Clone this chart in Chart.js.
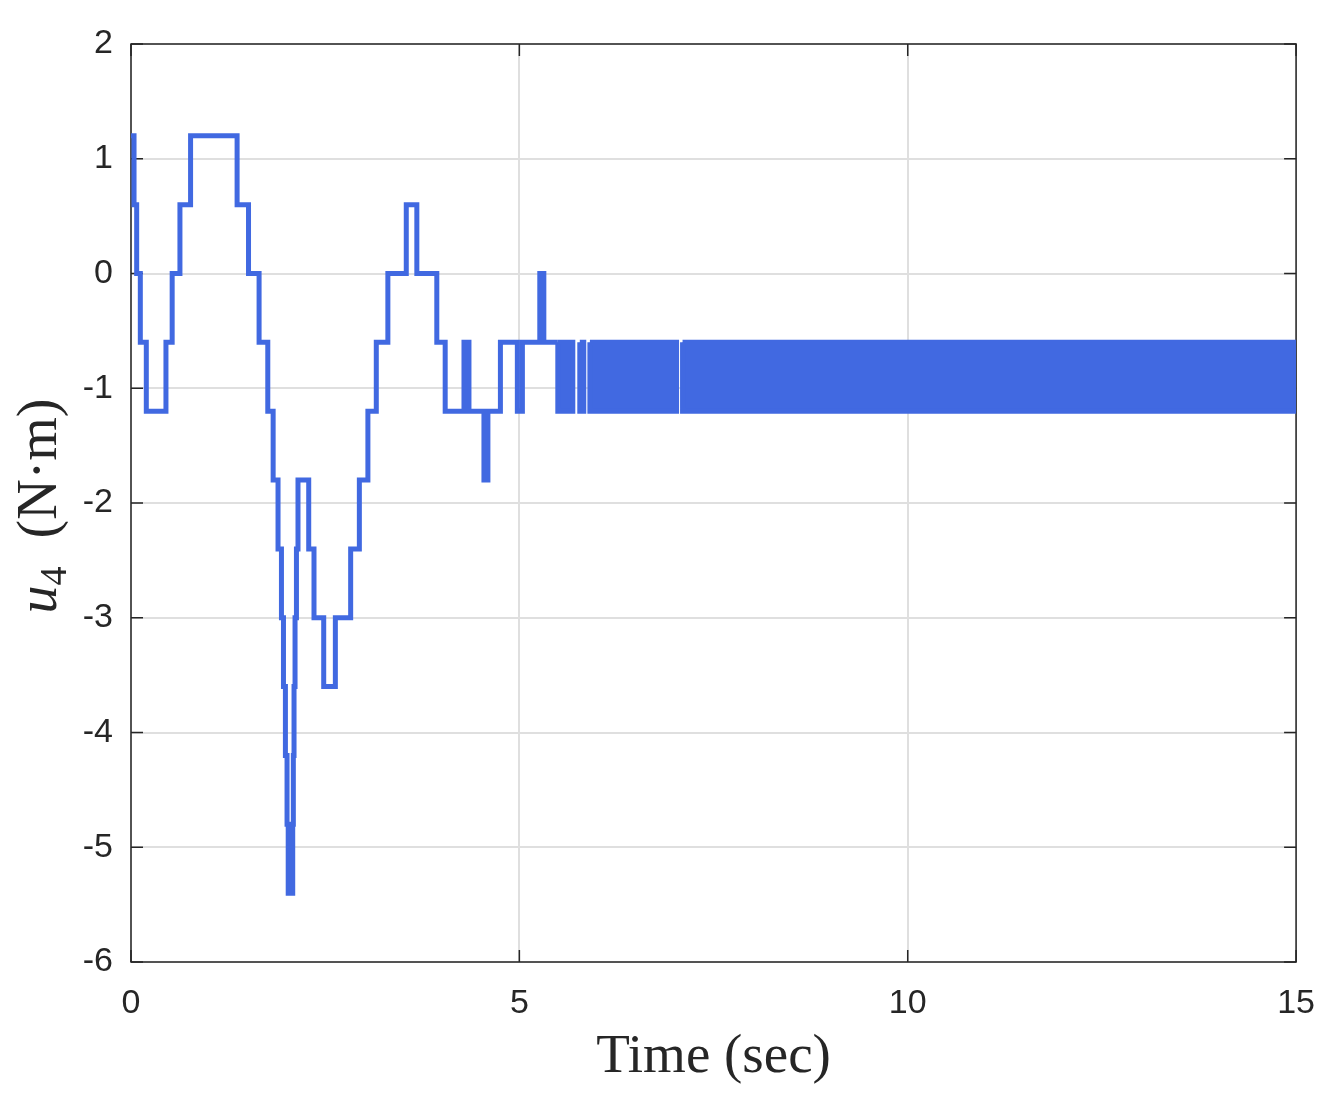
<!DOCTYPE html>
<html>
<head>
<meta charset="utf-8">
<script src="https://cdn.jsdelivr.net/npm/chart.js@4.4.1/dist/chart.umd.min.js"></script>
<style>
  html, body { margin: 0; padding: 0; background: #fff; }
  canvas { display: block; }
</style>
</head>
<body>
<canvas id="u4Chart" width="1336" height="1103"></canvas>
<script>
// switching instants (sec) and the value held from each instant on (N·m)
const stepTimes = [
  0, 0.039, 0.073, 0.12, 0.197, 0.45, 0.53, 0.63, 0.767, 1.366,
  1.513, 1.649, 1.761, 1.83, 1.893, 1.937, 1.963, 1.988, 2.009, 2.024,
  2.082, 2.09, 2.099, 2.112, 2.13, 2.15, 2.288, 2.356, 2.481, 2.631,
  2.828, 2.94, 3.05, 3.158, 3.307, 3.544, 3.68, 3.937, 4.045, 4.287,
  4.351, 4.544, 4.595, 4.756, 4.974, 5.039, 5.263, 5.315, 5.495
];
const stepValues = [
  1.2, 0.6, 0, -0.6, -1.2, -0.6, 0, 0.6, 1.2, 0.6,
  0, -0.6, -1.2, -1.8, -2.4, -3.0, -3.6, -4.2, -4.8, -5.4,
  -4.8, -4.2, -3.6, -3.0, -2.4, -1.8, -2.4, -3.0, -3.6, -3.0,
  -2.4, -1.8, -1.2, -0.6, 0, 0.6, 0, -0.6, -1.2, -0.6,
  -1.2, -1.8, -1.2, -0.6, -1.2, -0.6, 0, -0.6, -0.6
];

// chattering intervals: signal flips between these two levels every sample
const chatterStart = [5.495, 5.778, 5.908, 7.101];
const chatterEnd = [5.688, 5.829, 7.024, 15.0];
const chatterHigh = -0.6;
const chatterLow = -1.2;

const xTicks = [0, 5, 10, 15];
const yTicks = [-6, -5, -4, -3, -2, -1, 0, 1, 2];

const lineColor = '#4169e1';
const axisColor = '#262626';
const gridColor = '#dfdfdf';

const traceSet = {
  data: stepTimes.map((t, i) => ({ x: t, y: stepValues[i] })),
  stepped: true,
  borderColor: lineColor,
  borderWidth: 5,
  borderJoinStyle: 'miter',
  borderCapStyle: 'butt',
  pointRadius: 0,
  fill: false
};

const chatterSets = chatterStart.map((t0, i) => ({
  data: [
    { x: t0, y: chatterHigh },
    { x: chatterEnd[i], y: chatterHigh },
    { x: chatterEnd[i], y: chatterLow },
    { x: t0, y: chatterLow },
    { x: t0, y: chatterHigh }
  ],
  borderColor: lineColor,
  backgroundColor: lineColor,
  borderWidth: 5,
  borderJoinStyle: 'miter',
  pointRadius: 0,
  fill: 'shape'
}));

// box and inward tick marks, under the data like MATLAB's bottom layer
const frame = {
  id: 'frame',
  beforeDatasetsDraw(chart) {
    const { ctx, chartArea: a, scales: { x, y } } = chart;
    const len = 12;
    ctx.save();
    ctx.strokeStyle = axisColor;
    ctx.lineWidth = 1.5;
    ctx.strokeRect(a.left, a.top, a.right - a.left, a.bottom - a.top);
    ctx.beginPath();
    xTicks.forEach(v => {
      const px = x.getPixelForValue(v);
      ctx.moveTo(px, a.bottom); ctx.lineTo(px, a.bottom - len);
      ctx.moveTo(px, a.top); ctx.lineTo(px, a.top + len);
    });
    yTicks.forEach(v => {
      const py = y.getPixelForValue(v);
      ctx.moveTo(a.left, py); ctx.lineTo(a.left + len, py);
      ctx.moveTo(a.right, py); ctx.lineTo(a.right - len, py);
    });
    ctx.stroke();
    ctx.restore();
  }
};

// y label: italic u with subscript 4, then (N·m)
const yTitle = {
  id: 'yTitle',
  afterDraw(chart) {
    const ctx = chart.ctx;
    const a = chart.chartArea;
    const parts = [
      { text: 'u', font: 'italic 56px "Liberation Serif", serif', dy: 0 },
      { text: '4', font: '38px "Liberation Serif", serif', dy: 10 },
      { text: '  (N\u00b7m)', font: '56px "Liberation Serif", serif', dy: 0 }
    ];
    ctx.save();
    let total = 0;
    parts.forEach(p => { ctx.font = p.font; p.w = ctx.measureText(p.text).width; total += p.w; });
    ctx.translate(56, (a.top + a.bottom) / 2 + 3);
    ctx.rotate(-Math.PI / 2);
    ctx.fillStyle = axisColor;
    ctx.textBaseline = 'alphabetic';
    let cx = -total / 2;
    parts.forEach(p => {
      ctx.font = p.font;
      ctx.fillText(p.text, cx, p.dy);
      cx += p.w;
    });
    ctx.restore();
  }
};

new Chart(document.getElementById('u4Chart'), {
  type: 'line',
  data: { datasets: [traceSet, ...chatterSets] },
  options: {
    responsive: false,
    animation: false,
    devicePixelRatio: 1,
    layout: { padding: { top: 44, right: 38, left: 0, bottom: 0 } },
    plugins: {
      legend: { display: false },
      tooltip: { enabled: false }
    },
    scales: {
      x: {
        type: 'linear',
        min: 0,
        max: 15,
        afterBuildTicks: s => { s.ticks = xTicks.map(v => ({ value: v })); },
        afterFit: s => { s.height = 141; },
        grid: { color: gridColor, lineWidth: 2, drawTicks: false },
        border: { display: false },
        ticks: {
          padding: 21,
          maxRotation: 0,
          color: axisColor,
          font: { family: '"Liberation Sans", Arial, sans-serif', size: 34 }
        },
        title: {
          display: true,
          text: 'Time (sec)',
          color: axisColor,
          font: { family: '"Liberation Serif", serif', size: 55 },
          padding: { top: 0, bottom: 12 }
        }
      },
      y: {
        type: 'linear',
        min: -6,
        max: 2,
        afterBuildTicks: s => { s.ticks = yTicks.map(v => ({ value: v })); },
        afterFit: s => { s.width = 131; },
        grid: { color: gridColor, lineWidth: 2, drawTicks: false },
        border: { display: false },
        ticks: {
          padding: 18,
          color: axisColor,
          font: { family: '"Liberation Sans", Arial, sans-serif', size: 34 }
        }
      }
    }
  },
  plugins: [frame, yTitle]
});
</script>
</body>
</html>
